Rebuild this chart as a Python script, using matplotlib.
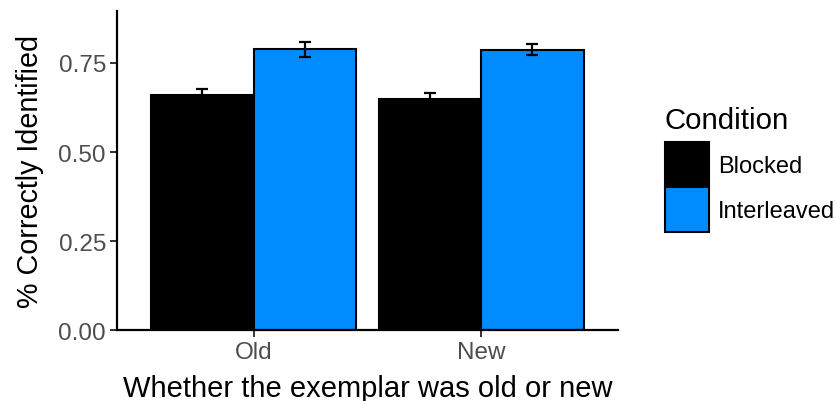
import matplotlib
matplotlib.use("Agg")
import matplotlib.pyplot as plt
from matplotlib.patches import Patch
import numpy as np

plt.rcParams['font.family'] = ['Liberation Sans', 'DejaVu Sans']

categories = ["Old", "New"]
conditions = ["Blocked", "Interleaved"]
colors = ["#000000", "#008BFF"]
means = {"Blocked": [0.661, 0.649], "Interleaved": [0.788, 0.787]}
errors = {"Blocked": [0.016, 0.016], "Interleaved": [0.020, 0.015]}

fig = plt.figure(figsize=(8.36, 4.02), dpi=100)
ax = fig.add_axes([0.140, 0.1766, 0.599, 0.7935])

x = np.arange(1, len(categories) + 1)
w = 0.45
for i, cond in enumerate(conditions):
    off = (i - 0.5) * w
    ax.bar(x + off, means[cond], width=w, color=colors[i], edgecolor="black",
           linewidth=1.5, zorder=2)
    ax.errorbar(x + off, means[cond], yerr=errors[cond], fmt="none", ecolor="black",
                elinewidth=1.6, capsize=4, capthick=1.6, zorder=3)

ax.set_xlim(0.4, 2.6)
ax.set_ylim(0, 0.896)
ax.set_xticks(x)
ax.set_xticklabels(categories)
ax.set_yticks([0, 0.25, 0.5, 0.75])
ax.set_yticklabels(["0.00", "0.25", "0.50", "0.75"])
for s in ["top", "right"]:
    ax.spines[s].set_visible(False)
for s in ["left", "bottom"]:
    ax.spines[s].set_linewidth(1.6)
ax.tick_params(axis="both", length=5, width=1.4, color="#333333",
               labelsize=17.5, labelcolor="#4D4D4D", pad=3)
ax.set_xlabel("Whether the exemplar was old or new", fontsize=21, labelpad=8)
ax.set_ylabel("% Correctly Identified", fontsize=20.7, labelpad=10)

handles = [Patch(facecolor=colors[i], edgecolor="black", linewidth=1.5, label=conditions[i])
           for i in range(len(conditions))]
leg = fig.legend(handles=handles, title="Condition", loc="upper left",
                 bbox_to_anchor=(0.795, 0.734), frameon=False, fontsize=17,
                 title_fontsize=21.2, handlelength=1.9, handleheight=2.56,
                 labelspacing=0.0, handletextpad=0.35, borderaxespad=0,
                 borderpad=0, alignment="left")
leg._legend_box.sep = 6

fig.savefig("out.png", dpi=100)
